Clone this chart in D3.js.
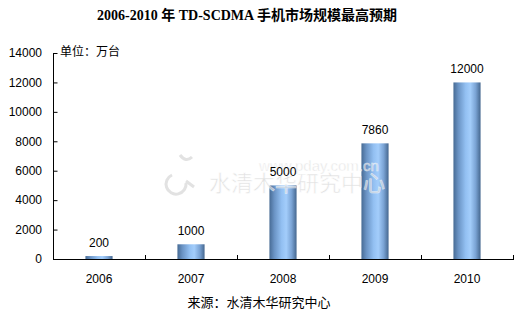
<!DOCTYPE html>
<html>
<head>
<meta charset="utf-8">
<script src="https://cdn.jsdelivr.net/npm/d3@7"></script>
<style>
  body { margin: 0; background: #fff; }
  svg text { font-family: "Liberation Sans", Arial, sans-serif; }
</style>
</head>
<body>
<svg id="chart" width="524" height="321"></svg>
<script>
// data
var years = ["2006", "2007", "2008", "2009", "2010"]
var values = [200, 1000, 5000, 7860, 12000]
var yTicks = [0, 2000, 4000, 6000, 8000, 10000, 12000, 14000]

var svg = d3.select("#chart")
var plotLeft = 53, plotRight = 513, plotTop = 53, plotBottom = 259

var x = d3.scaleBand().domain(years).range([plotLeft, plotRight]).paddingInner(0.705).paddingOuter(0.3525)
var y = d3.scaleLinear().domain([0, 14000]).range([plotBottom, plotTop])

// cylinder-like gradient for bars
var grad = svg.append("defs").append("linearGradient")
  .attr("id", "barGrad").attr("x1", "0").attr("x2", "1").attr("y1", "0").attr("y2", "0")
grad.selectAll("stop")
  .data([[0, "#476b94"], [0.18, "#6a93c4"], [0.45, "#93c0f2"], [0.62, "#a3cdfb"], [0.82, "#7aa3d4"], [1, "#45678f"]])
  .enter().append("stop")
    .attr("offset", d => d[0]).attr("stop-color", d => d[1])

// title
svg.append("text")
  .attr("x", 247).attr("y", 20)
  .attr("text-anchor", "middle")
  .style("font-family", "'Liberation Serif', 'Noto Sans CJK SC', serif")
  .style("font-weight", "bold").style("font-size", "14px")
  .text("2006-2010 年 TD-SCDMA 手机市场规模最高预期")

// y axis
var yAxis = d3.axisLeft(y).tickValues(yTicks).tickFormat(d3.format("d")).tickSize(4).tickPadding(8)
var gy = svg.append("g").attr("transform", "translate(" + plotLeft + ",0)").call(yAxis)
gy.select(".domain").attr("d", "M0.5," + plotTop + "V" + plotBottom)
gy.selectAll(".tick line").attr("x1", 0.5).attr("x2", 4.5)
gy.selectAll(".domain, line").attr("stroke", "#000")
gy.selectAll("text").style("font-size", "12px").attr("fill", "#000").attr("x", -11)

// x axis
var gx = svg.append("g").attr("transform", "translate(0," + plotBottom + ")")
gx.append("line").attr("x1", plotLeft).attr("x2", plotRight + 1).attr("y1", 0.5).attr("y2", 0.5).attr("stroke", "#000")
gx.selectAll(".tk").data(years).enter().append("line")
  .attr("x1", d => Math.round(x(d) + x.bandwidth() / 2 + x.step() / 2) + 0.5)
  .attr("x2", d => Math.round(x(d) + x.bandwidth() / 2 + x.step() / 2) + 0.5)
  .attr("y1", 0).attr("y2", -4).attr("stroke", "#000")
gx.selectAll(".lb").data(years).enter().append("text")
  .attr("x", d => x(d) + x.bandwidth() / 2)
  .attr("y", 24)
  .attr("text-anchor", "middle")
  .style("font-size", "12px")
  .text(d => d)

// unit label
svg.append("text")
  .attr("x", 60).attr("y", 56)
  .style("font-family", "'Noto Sans CJK SC', sans-serif").style("font-size", "12px")
  .text("单位：万台")

// bars
svg.selectAll(".bar").data(values).enter().append("rect")
  .attr("class", "bar")
  .attr("x", (d, i) => x(years[i]))
  .attr("width", x.bandwidth())
  .attr("y", d => y(d))
  .attr("height", d => plotBottom - y(d))
  .attr("fill", "url(#barGrad)")

// watermark (sits over the bars, under the value labels)
var wm = svg.append("g").attr("opacity", 0.7).style("pointer-events", "none")
wm.append("text").attr("x", 319).attr("y", 171).attr("text-anchor", "middle")
  .style("font-size", "15px").attr("fill", "#d6d6d6").attr("stroke", "#fff").attr("stroke-width", 0.5)
  .text("www.pday.com.cn")
wm.append("text").attr("x", 297).attr("y", 191).attr("text-anchor", "middle")
  .style("font-family", "'Noto Sans CJK SC', sans-serif").style("font-size", "22px")
  .attr("fill", "#d6d6d6").attr("stroke", "#fff").attr("stroke-width", 0.6)
  .text("水清木华研究中心")
wm.append("path").attr("d", "M172,175 a10,10 0 1 0 14,8 M180,155 q6,8 12,2 M186,181 l8,6")
  .attr("fill", "none").attr("stroke", "#d6d6d6").attr("stroke-width", 3)

// value labels
svg.selectAll(".val").data(values).enter().append("text")
  .attr("x", (d, i) => x(years[i]) + x.bandwidth() / 2)
  .attr("y", d => y(d) - 9)
  .attr("text-anchor", "middle")
  .style("font-size", "12px")
  .text(d => d)

// source
svg.append("text")
  .attr("x", 259).attr("y", 307).attr("text-anchor", "middle")
  .style("font-family", "'Noto Sans CJK SC', sans-serif").style("font-size", "13px")
  .text("来源：水清木华研究中心")
</script>
</body>
</html>
